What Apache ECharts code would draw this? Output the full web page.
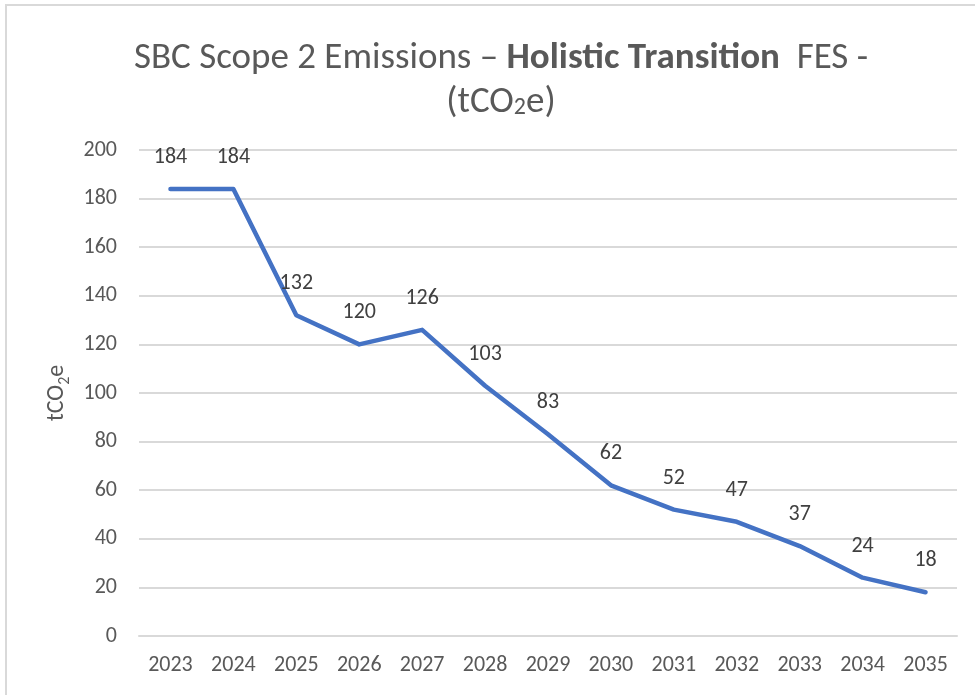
<!DOCTYPE html>
<html lang="en">
<head>
    <meta charset="UTF-8">
    <title>echarts</title>
    <script src="https://cdn.jsdelivr.net/npm/echarts@6/dist/echarts.min.js"></script>
    <style>
        html, body { margin: 0; padding: 0; background: #fff; }
        #chart { width: 975px; height: 695px; }
    </style>
</head>
<body>
<div id="chart"></div>
<script>
    // data
    var years = ['2023', '2024', '2025', '2026', '2027', '2028', '2029', '2030', '2031', '2032', '2033', '2034', '2035'];
    var emissions = [184, 184, 132, 120, 126, 103, 83, 62, 52, 47, 37, 24, 18];

    var font = "Carlito, 'Open Sans', sans-serif";

    var myChart = echarts.init(document.getElementById('chart'));
    myChart.setOption({
        backgroundColor: '#fff',
        textStyle: { fontFamily: font },
        // outer chart frame
        graphic: [{
            type: 'rect',
            shape: { x: 6, y: 5, width: 990, height: 720 },
            style: { fill: 'none', stroke: '#d9d9d9', lineWidth: 2 },
            silent: true
        }],
        title: {
            left: 496,
            textAlign: 'center',
            top: 32,
            text: '{a|SBC Scope 2 Emissions – }{b|Holistic Transition}{a|  FES -}\n{a|(tCO}{s|2}{a|e)}',
            textStyle: {
                rich: {
                    a: { fontFamily: font, fontSize: 37, color: '#595959', fontWeight: 'normal', lineHeight: 44 },
                    b: { fontFamily: font, fontSize: 37, color: '#595959', fontWeight: 'bold', lineHeight: 44 },
                    s: { fontFamily: font, fontSize: 24, color: '#595959', fontWeight: 'normal', lineHeight: 44, verticalAlign: 'bottom', padding: [0, 0, 5, 0] }
                }
            }
        },
        grid: { left: 139, right: 18, top: 150, bottom: 59 },
        xAxis: {
            type: 'category',
            data: years,
            boundaryGap: true,
            axisLine: { show: true, lineStyle: { color: '#d9d9d9', width: 2 } },
            axisTick: { show: false },
            axisLabel: { color: '#595959', fontSize: 22, margin: 18, fontFamily: font }
        },
        yAxis: {
            type: 'value',
            min: 0,
            max: 200,
            interval: 20,
            name: '{a|tCO}{s|2}{a|e}',
            nameLocation: 'middle',
            nameGap: 70,
            nameTextStyle: {
                rich: {
                    a: { color: '#595959', fontSize: 24, fontFamily: font },
                    s: { color: '#595959', fontSize: 16, fontFamily: font, verticalAlign: 'bottom', padding: [0, 0, -4, 0] }
                }
            },
            axisLine: { show: false },
            axisTick: { show: false },
            axisLabel: { color: '#595959', fontSize: 22, margin: 22, fontFamily: font },
            splitLine: { lineStyle: { color: '#d9d9d9', width: 2 } }
        },
        series: [{
            type: 'line',
            data: emissions,
            showSymbol: true,
            symbol: 'circle',
            symbolSize: 1,
            itemStyle: { color: 'rgba(68,114,196,0)' },
            lineStyle: { color: '#4472C4', width: 4.5, cap: 'round', join: 'round' },
            label: {
                show: true,
                position: 'top',
                distance: 20,
                color: '#404040',
                fontSize: 22,
                fontFamily: font
            },
            animation: false
        }],
        animation: false
    });
</script>
</body>
</html>
